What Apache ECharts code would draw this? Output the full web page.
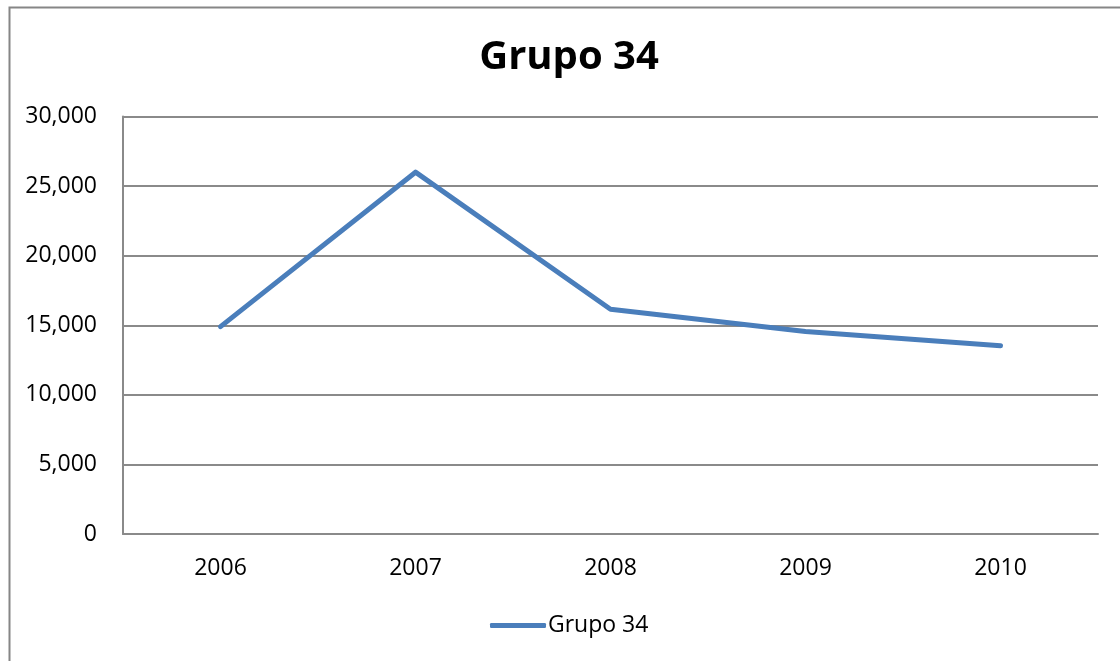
<!DOCTYPE html>
<html>
<head>
<meta charset="utf-8">
<script src="https://cdn.jsdelivr.net/npm/echarts@6/dist/echarts.min.js"></script>
<style>
html,body{margin:0;padding:0;background:#fff;}
#chart{width:1120px;height:661px;}
</style>
</head>
<body>
<div id="chart"></div>
<script>
const titleText = 'Grupo 34';
const seriesName = 'Grupo 34';
const categories = ['2006', '2007', '2008', '2009', '2010'];
const values = [14900, 26000, 16150, 14550, 13530];
const yMin = 0, yMax = 30000, yInterval = 5000;

const FONT = '"Open Sans", "Noto Sans", sans-serif';
const chart = echarts.init(document.getElementById('chart'), null, {renderer: 'canvas'});
chart.setOption({
  backgroundColor: '#ffffff',
  animation: false,
  graphic: [{
    type: 'rect',
    left: 7, top: 5,
    shape: {x: 0, y: 0, width: 1200, height: 700},
    style: {fill: 'none', stroke: '#868686', lineWidth: 2},
    silent: true, z: -1
  }],
  title: {
    text: titleText,
    left: 564,
    top: 33,
    textAlign: 'center',
    textStyle: {fontFamily: FONT, fontWeight: 'bold', fontSize: 40, color: '#000'}
  },
  legend: {
    data: [seriesName],
    bottom: 19,
    left: 485,
    icon: 'roundRect',
    itemWidth: 56,
    itemHeight: 5,
    itemGap: 10,
    itemStyle: {color: '#4A7EBB'},
    textStyle: {fontFamily: FONT, fontSize: 23, color: '#000', padding: [0, 0, 0, -3]}
  },
  grid: {left: 123, right: 22, top: 116.5, bottom: 127, containLabel: false},
  xAxis: {
    type: 'category',
    data: categories,
    boundaryGap: true,
    axisLine: {show: true, lineStyle: {color: '#8a8a8a', width: 2}},
    axisTick: {show: false},
    axisLabel: {fontFamily: FONT, fontSize: 23, color: '#000', margin: 23}
  },
  yAxis: {
    type: 'value',
    min: yMin, max: yMax, interval: yInterval,
    axisLine: {show: true, lineStyle: {color: '#8a8a8a', width: 2}},
    axisTick: {show: false},
    splitLine: {show: true, lineStyle: {color: '#8a8a8a', width: 2}},
    axisLabel: {
      fontFamily: FONT, fontSize: 23, color: '#000', margin: 26,
      formatter: v => v.toLocaleString('en-US')
    }
  },
  series: [{
    name: seriesName,
    type: 'line',
    data: values,
    symbol: 'none',
    showSymbol: false,
    color: '#4A7EBB',
    lineStyle: {color: '#4A7EBB', width: 5, cap: 'round', join: 'round'}
  }]
});
</script>
</body>
</html>
